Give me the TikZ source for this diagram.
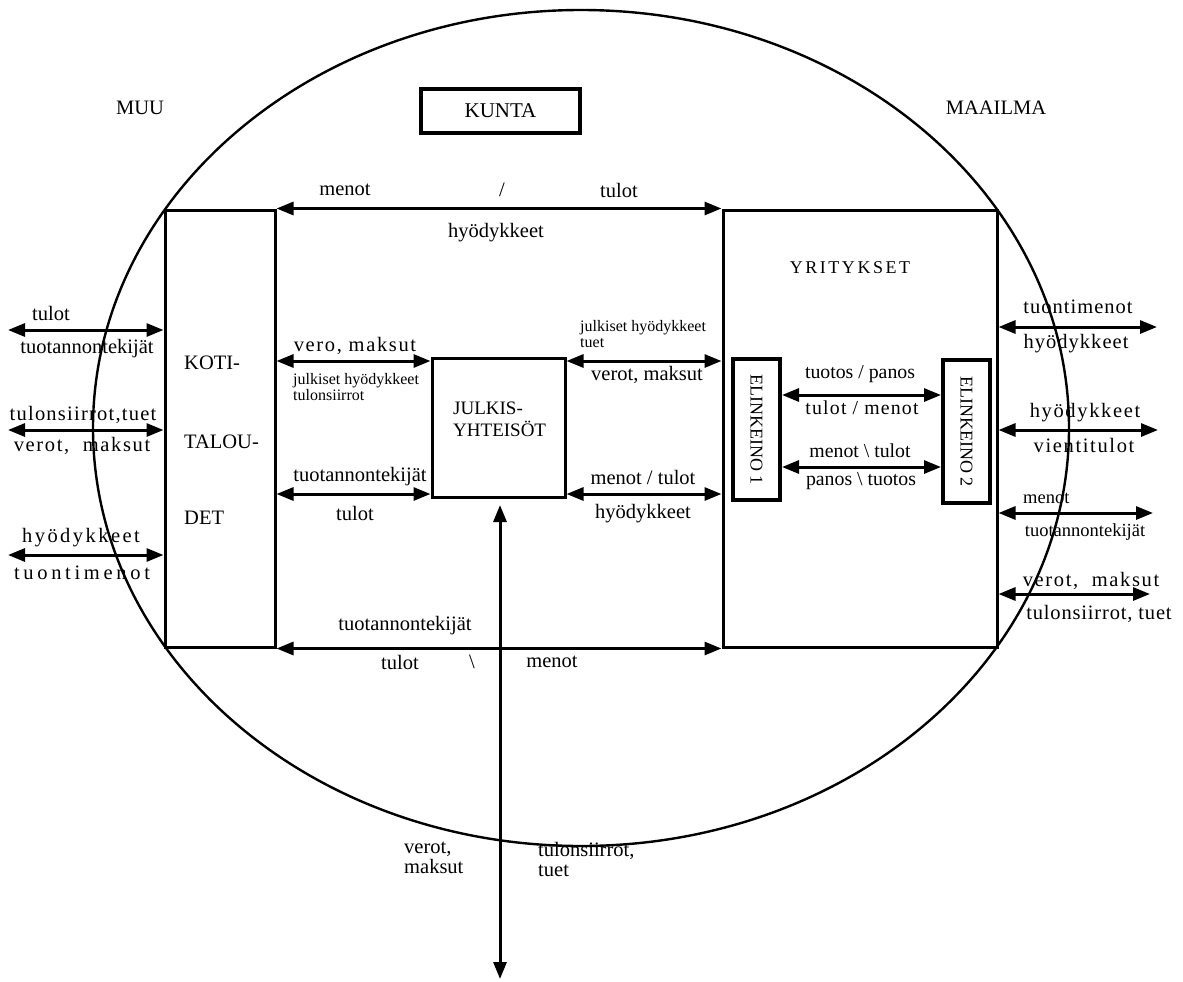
\documentclass[tikz,border=0pt]{standalone}
\usepackage{fontspec}
\setmainfont{Liberation Serif}
\usetikzlibrary{arrows.meta}
\newcommand{\lsp}[2]{{\addfontfeature{LetterSpace=#1}#2}}
\tikzset{
  box/.style={draw, line width=3pt, inner sep=0pt},
  flow/.style={line width=3pt, {Triangle[length=17pt,width=13pt]}-{Triangle[length=17pt,width=13pt]}},
  lbl/.style={inner sep=0pt, font=\fontsize{20.5}{22}\selectfont},
  mid/.style={inner sep=0pt, font=\fontsize{18.5}{20}\selectfont},
  small/.style={inner sep=0pt, font=\fontsize{16}{16}\selectfont, align=left},
}
\begin{document}
\begin{tikzpicture}[x=1pt,y=-1pt]
\useasboundingbox (0,0) rectangle (1183,982);
% outer ellipse
\draw[line width=2.4pt] (581,428) ellipse [x radius=488, y radius=418];

% boxes
\node[box, minimum width=110pt, minimum height=437pt] (koti) at (220,428.5) {};
\node[box, minimum width=274pt, minimum height=437pt] (yrit) at (860,428.5) {};
\node[box, minimum width=133pt, minimum height=139pt] (julk) at (498.5,428) {};
\node[box, line width=4pt, minimum width=159pt, minimum height=44pt] (kunta) at (500.5,111) {\fontsize{21}{22}\selectfont KUNTA};
\node[box, line width=4pt, minimum width=47pt, minimum height=141pt] (el1) at (756.5,429.5) {};
\node[box, line width=4pt, minimum width=47pt, minimum height=143pt] (el2) at (966.5,431.5) {};
\node[rotate=-90, inner sep=0pt, font=\fontsize{18}{20}\selectfont] (el1t) at (el1) {ELINKEINO 1};
\node[rotate=-90, inner sep=0pt, font=\fontsize{18}{20}\selectfont] (el2t) at (el2) {ELINKEINO 2};

% box texts
\node[lbl] (muu) at (140,108) {MUU};
\node[lbl] (maa) at (996,108) {MAAILMA};
\node[lbl, anchor=west] (k1) at (184,363) {KOTI-};
\node[lbl, anchor=west] (k2) at (184,442) {TALOU-};
\node[lbl, anchor=west] (k3) at (184,518) {DET};
\node[inner sep=0pt, font=\fontsize{19}{22}\selectfont, align=left, anchor=west] (jt) at (453,419) {JULKIS-\\YHTEISÖT};
\node[inner sep=0pt, font=\fontsize{18}{20}\selectfont] (yt) at (850,268) {\lsp{14}{YRITYKSET}};

% top and bottom flows
\draw[flow] (koti.north east) -- (yrit.north west);
\node[lbl] (ta) at (345,190) {menot};
\node[lbl] (tb) at (502,190) {/};
\node[lbl] (tc) at (619,190) {tulot};
\node[lbl] (td) at (496,233) {hyödykkeet};

\draw[flow] (koti.south east) -- (yrit.south west);
\node[lbl] (ba) at (405,626) {tuotannontekijät};
\node[lbl] (bb) at (400,662) {tulot};
\node[lbl] (bc) at (472,662) {\textbackslash};
\node[lbl] (bd) at (552,662) {menot};

% koti <-> julkisyhteisot
\coordinate (ya) at (0,361);
\coordinate (yb) at (0,494);
\draw[flow] (koti.east |- ya) -- (julk.west |- ya);
\node[lbl] (ka) at (355,346) {\lsp{8}{vero, maksut}};
\node[small, anchor=north west] (kb) at (293,373) {julkiset hyödykkeet\\tulonsiirrot};
\draw[flow] (koti.east |- yb) -- (julk.west |- yb);
\node[lbl] (kc) at (360,477) {tuotannontekijät};
\node[lbl] (kd) at (355,513) {tulot};

% julkisyhteisot <-> yritykset
\draw[flow] (julk.east |- ya) -- (yrit.west |- ya);
\node[small, anchor=south west] (ja) at (580,348) {julkiset hyödykkeet\\tuet};
\node[lbl] (jb) at (647,375) {verot, maksut};
\draw[flow] (julk.east |- yb) -- (yrit.west |- yb);
\node[lbl] (jc) at (643,477) {menot / tulot};
\node[lbl] (jd) at (643,514) {hyödykkeet};

% elinkeino flows
\coordinate (ea) at (0,395);
\coordinate (eb) at (0,467);
\draw[flow] (el1.east |- ea) -- (el2.west |- ea);
\draw[flow] (el1.east |- eb) -- (el2.west |- eb);
\node[lbl, font=\fontsize{19.8}{22}\selectfont] (ec) at (860,374) {tuotos / panos};
\node[lbl, font=\fontsize{19.8}{22}\selectfont] (ed) at (862,408) {\lsp{6}{tulot / menot}};
\node[lbl, font=\fontsize{19.8}{22}\selectfont] (ee) at (860,451) {menot \textbackslash\ tulot};
\node[lbl, font=\fontsize{19.8}{22}\selectfont] (ef) at (861,481) {panos \textbackslash\ tuotos};

% vertical flow
\coordinate (vb) at (500,979);
\path (julk.south -| vb) coordinate (vj);
\draw[flow] ([yshift=-6pt]vj) -- (vb);
\node[lbl, anchor=north west, align=left, font=\fontsize{20.5}{20}\selectfont] (va) at (404,842) {verot,\\maksut};
\node[lbl, anchor=north west, align=left, font=\fontsize{20.5}{20}\selectfont] (vc) at (538,842) {tulonsiirrot,\\tuet};

% left external flows
\coordinate (L1) at (8,330);
\coordinate (L2) at (8,430);
\coordinate (L3) at (8,555);
\draw[flow] (L1) -- (koti.west |- L1);
\draw[flow] (L2) -- (koti.west |- L2);
\draw[flow] (L3) -- (koti.west |- L3);
\node[lbl, anchor=west] (la) at (32,313) {tulot};
\node[lbl] (lb) at (87,349) {tuotannontekijät};
\node[lbl] (lc) at (83,415) {\lsp{6}{tulonsiirrot,tuet}};
\node[lbl] (ld) at (82,446) {\lsp{8}{verot,\ \ maksut}};
\node[lbl] (le) at (81,538) {\lsp{12}{hyödykkeet}};
\node[lbl] (lf) at (82,573) {\lsp{18}{tuontimenot}};

% right external flows
\coordinate (R1) at (1157,327);
\coordinate (R2) at (1158,430);
\coordinate (R3) at (1153,513);
\coordinate (R4) at (1150,594);
\draw[flow] (yrit.east |- R1) -- (R1);
\draw[flow] (yrit.east |- R2) -- (R2);
\draw[flow] (yrit.east |- R3) -- (R3);
\draw[flow] (yrit.east |- R4) -- (R4);
\node[lbl] (ra) at (1078,307) {\lsp{5}{tuontimenot}};
\node[lbl] (rb) at (1076,344) {\lsp{5}{hyödykkeet}};
\node[lbl] (rc) at (1085,413) {\lsp{8}{hyödykkeet}};
\node[lbl] (rd) at (1084,445) {\lsp{8}{vientitulot}};
\node[mid, anchor=west] (re) at (1023,498) {menot};
\node[mid] (rf) at (1085,532) {tuotannontekijät};
\node[lbl] (rg) at (1091,581) {\lsp{8}{verot,\ \ maksut}};
\node[lbl] (rh) at (1099,614) {\lsp{4}{tulonsiirrot, tuet}};
\end{tikzpicture}
\end{document}
